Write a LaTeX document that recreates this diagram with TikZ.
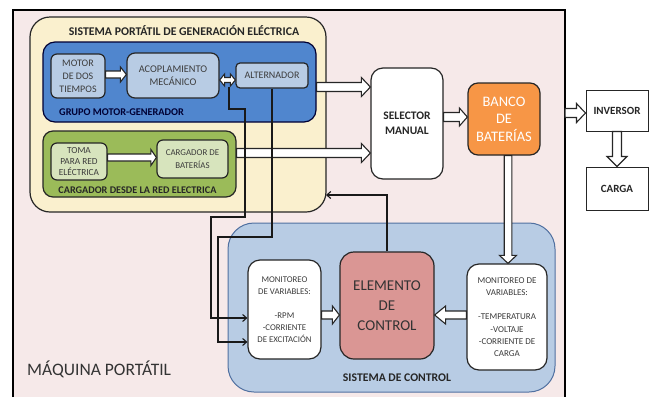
\documentclass[tikz,border=0pt]{standalone}
\usepackage{fontspec}
\setmainfont{Carlito}
\usetikzlibrary{calc,arrows.meta}
\definecolor{framefill}{RGB}{246,233,233}
\definecolor{yellowfill}{RGB}{250,240,206}
\definecolor{bluegrp}{RGB}{80,134,206}
\definecolor{lightblue}{RGB}{184,204,228}
\definecolor{greengrp}{RGB}{155,187,89}
\definecolor{lightgreen}{RGB}{215,228,189}
\definecolor{orangebox}{RGB}{247,150,70}
\definecolor{redbox}{RGB}{218,150,148}
\definecolor{ctrlfill}{RGB}{184,204,228}
\definecolor{ctrledge}{RGB}{80,112,160}
\definecolor{txt}{RGB}{60,60,60}
\newcommand\harr[5]{\path[barrow] let \p1=(#1), \p2=(#2), \n1={sign(\x2-\x1)} in
 (\x1,{\y2+#3}) -- ({\x2-\n1*#5},{\y2+#3}) -- ({\x2-\n1*#5},{\y2+#4}) -- (\x2,\y2) -- ({\x2-\n1*#5},{\y2-#4}) -- ({\x2-\n1*#5},{\y2-#3}) -- (\x1,{\y2-#3}) -- cycle;}
\newcommand\varr[5]{\path[barrow] let \p1=(#1), \p2=(#2), \n1={sign(\y2-\y1)} in
 ({\x2+#3},\y1) -- ({\x2+#3},{\y2-\n1*#5}) -- ({\x2+#4},{\y2-\n1*#5}) -- (\x2,\y2) -- ({\x2-#4},{\y2-\n1*#5}) -- ({\x2-#3},{\y2-\n1*#5}) -- ({\x2-#3},\y1) -- cycle;}
\newcommand\dharr[5]{\path[barrow] let \p1=(#1), \p2=(#2) in
 (\x1,\y2) -- ({\x1+#5},{\y2+#4}) -- ({\x1+#5},{\y2+#3}) -- ({\x2-#5},{\y2+#3}) -- ({\x2-#5},{\y2+#4}) -- (\x2,\y2) -- ({\x2-#5},{\y2-#4}) -- ({\x2-#5},{\y2-#3}) -- ({\x1+#5},{\y2-#3}) -- ({\x1+#5},{\y2-#4}) -- cycle;}
\tikzset{
  box/.style={draw=black!85, line width=1.2pt, rounded corners=6pt, align=center, inner sep=0pt, text=txt},
  grp/.style={draw=black!85, line width=1.2pt, inner sep=0pt},
  barrow/.style={fill=white, draw=black!85, line width=1.1pt, line join=miter},
  conn/.style={draw=black!90, line width=1.1pt, -{Straight Barb[length=4pt,width=7pt]}},
  lbl/.style={font=\fontsize{10}{12}\selectfont\bfseries, text=black!85, inner sep=0pt},
}
\begin{document}
\begin{tikzpicture}[x=1pt,y=-1pt]
\useasboundingbox (0,0) rectangle (654,397);
% outer frame
\fill[framefill] (13,10) rectangle (565,397);
\draw[line width=2.6pt] (13,397) -- (13,10) -- (565,10) -- (565,397);
% groups
\node[grp, fill=yellowfill, rounded corners=20pt, minimum width=296pt, minimum height=195pt] (sys) at (178,114.5) {};
\node[grp, fill=bluegrp, draw=black!80!blue, rounded corners=12pt, minimum width=273pt, minimum height=80pt] (grpmg) at (179.5,82) {};
\node[grp, fill=greengrp, rounded corners=10pt, minimum width=193pt, minimum height=66pt] (grpcr) at (139.5,164) {};
\node[grp, fill=ctrlfill, draw=ctrledge, line width=1pt, rounded corners=26pt, minimum width=327pt, minimum height=169pt] (ctrl) at (391.5,307.5) {};
% labels
\node[lbl, font=\fontsize{11.8}{14}\selectfont\bfseries] (tsys) at (184,31) {SISTEMA PORTÁTIL DE GENERACIÓN ELÉCTRICA};
\node[lbl, anchor=west, text=black!80!blue, font=\fontsize{10.3}{12}\selectfont\bfseries] (tmg) at (59,112) {GRUPO MOTOR-GENERADOR};
\node[lbl, font=\fontsize{10.2}{12}\selectfont\bfseries] (tcr) at (137.5,190) {CARGADOR DESDE LA RED ELECTRICA};
\node[lbl, font=\fontsize{11.7}{14}\selectfont\bfseries] (tctrl) at (397,378) {SISTEMA DE CONTROL};
\node[anchor=west, inner sep=0pt, font=\fontsize{17.5}{20}\selectfont, text=black!80] (tmaq) at (27,369) {MÁQUINA PORTÁTIL};
% boxes
\node[box, fill=lightblue, minimum width=54pt, minimum height=44pt, font=\fontsize{10}{13}\selectfont] (motor) at (78,76) {MOTOR\\DE DOS\\TIEMPOS};
\node[box, fill=lightblue, rounded corners=8pt, minimum width=92pt, minimum height=45pt, font=\fontsize{10.3}{13}\selectfont] (acop) at (173,75.5) {ACOPLAMIENTO\\MECÁNICO};
\node[box, fill=lightblue, rounded corners=4pt, minimum width=72pt, minimum height=25pt, font=\fontsize{10}{12}\selectfont] (alt) at (272,75.5) {ALTERNADOR};
\node[box, fill=lightgreen, minimum width=56pt, minimum height=37pt, font=\fontsize{9.3}{11.3}\selectfont] (toma) at (79,161.5) {TOMA\\PARA RED\\ELÉCTRICA};
\node[box, fill=lightgreen, minimum width=71pt, minimum height=38pt, font=\fontsize{8.9}{12.5}\selectfont] (carg) at (192.5,159) {CARGADOR DE\\BATERÍAS};
\node[box, fill=white, rounded corners=12pt, minimum width=72pt, minimum height=111pt, font=\fontsize{11.5}{15}\selectfont\bfseries, text=black!85] (sel) at (407,123.5) {SELECTOR\\MANUAL};
\node[box, fill=orangebox, rounded corners=10pt, minimum width=72pt, minimum height=72pt, font=\fontsize{14.5}{17.5}\selectfont, text=white] (banco) at (504,119) {BANCO\\DE\\BATERÍAS};
\node[box, fill=white, rounded corners=0pt, line width=1pt, minimum width=62pt, minimum height=41pt, font=\fontsize{11}{12}\selectfont\bfseries, text=black!85] (inv) at (617,110.5) {INVERSOR};
\node[box, fill=white, rounded corners=0pt, line width=1pt, minimum width=62pt, minimum height=43pt, font=\fontsize{11}{12}\selectfont\bfseries, text=black!85] (carga) at (617,188.5) {CARGA};
\node[box, fill=white, rounded corners=12pt, minimum width=73pt, minimum height=99pt, font=\fontsize{8.8}{12}\selectfont] (monl) at (284.5,309.5) {MONITOREO\\DE VARIABLES:\\[12pt]-RPM\\-CORRIENTE\\DE EXCITACIÓN};
\node[box, fill=redbox, rounded corners=14pt, minimum width=94pt, minimum height=107pt, font=\fontsize{15}{20}\selectfont, text=black!80] (elem) at (387,305.5) {ELEMENTO\\DE\\CONTROL};
\node[box, fill=white, rounded corners=12pt, minimum width=80pt, minimum height=106pt, font=\fontsize{9}{12.3}\selectfont] (monr) at (507,317) {MONITOREO DE\\VARIABLES:\\[12pt]-TEMPERATURA\\-VOLTAJE\\-CORRIENTE DE\\CARGA};
% coordinates
\coordinate (frameR) at (565,113);
\coordinate (fb) at (326,195);
\coordinate (cpl) at (229,87);
% block arrows
\harr{motor.east}{[yshift=1pt]acop.west}{3.5pt}{7.5pt}{6pt}
\harr{toma.east}{[yshift=1.5pt]carg.west}{3.5pt}{8pt}{5.5pt}
\dharr{acop.east}{[yshift=-4.5pt]alt.west}{2.5pt}{6pt}{5pt}
\harr{[yshift=-5pt]grpmg.east}{[yshift=36.5pt]sel.west}{4.5pt}{9.5pt}{9pt}
\harr{grpcr.east}{[yshift=-29.5pt]sel.west}{4.5pt}{9.5pt}{9pt}
\harr{sel.east}{[yshift=2pt]banco.west}{4.5pt}{9pt}{8pt}
\harr{frameR}{[yshift=-2.5pt]inv.west}{4.5pt}{9.5pt}{9pt}
\varr{inv.south}{carga.north}{4.5pt}{10pt}{10pt}
\varr{[xshift=4pt]banco.south}{[xshift=1pt]monr.north}{3.8pt}{8.5pt}{8pt}
\harr{monl.east}{[yshift=-9.5pt]elem.west}{4pt}{9pt}{7pt}
\harr{monr.west}{[yshift=-9.5pt]elem.east}{4pt}{9pt}{11pt}
% thin connectors
\draw[conn] (cpl) -- (229,109) -- (245,109) -- (245,217) -- (211,217) -- (211,318) -- ([yshift=-8.5pt]monl.west);
\draw[conn] (alt.south) -- (272,237) -- (218,237) -- (218,342) -- ([yshift=-32.5pt]monl.west);
\draw[conn] (elem.north) |- (fb);
\end{tikzpicture}
\end{document}
